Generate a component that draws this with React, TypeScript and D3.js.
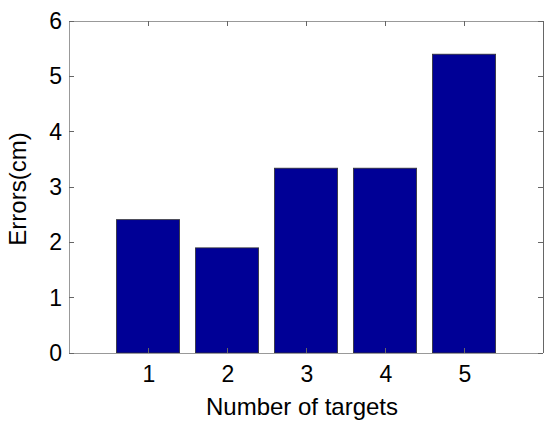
import React, { useRef, useEffect } from 'react';
import * as d3 from 'd3';

// data
const targets = [1, 2, 3, 4, 5];
const errors = [2.41, 1.9, 3.34, 3.34, 5.4];
const yTicks = [0, 1, 2, 3, 4, 5, 6];

const BarChart = () => {
    const svgRef = useRef<SVGSVGElement>(null);
    const width = 550, height = 426;
    const margin = { top: 21, right: 7, bottom: 73, left: 69 };

    useEffect(() => {
        const svg = d3.select(svgRef.current);
        svg.selectAll('*').remove();

        const x = d3.scaleLinear().domain([0, 6]).range([margin.left, width - margin.right]);
        const y = d3.scaleLinear().domain([0, 6]).range([height - margin.bottom, margin.top]);
        const font = 'Arial, "Liberation Sans", sans-serif';

        // bars
        const bw = x(0.8) - x(0);
        svg.append('g').selectAll('rect')
            .data(targets)
            .enter()
            .append('rect')
            .attr('x', (d) => x(d) - bw / 2)
            .attr('y', (d, i) => y(errors[i]))
            .attr('width', bw)
            .attr('height', (d, i) => y(0) - y(errors[i]))
            .attr('fill', '#000096')
            .attr('stroke', '#333')
            .attr('stroke-width', 0.8);

        // box
        const x0 = x(0), x1 = x(6), y0 = y(0), y1 = y(6);
        const box = svg.append('g').attr('stroke-width', 1).attr('shape-rendering', 'crispEdges');
        box.append('line').attr('x1', x0).attr('x2', x1).attr('y1', y0).attr('y2', y0).attr('stroke', '#999');
        box.append('line').attr('x1', x0).attr('x2', x1).attr('y1', y1).attr('y2', y1).attr('stroke', '#999');
        box.append('line').attr('x1', x0).attr('x2', x0).attr('y1', y0).attr('y2', y1).attr('stroke', '#999');
        box.append('line').attr('x1', x1).attr('x2', x1).attr('y1', y0).attr('y2', y1).attr('stroke', '#666');

        // inward ticks on all four sides
        const tl = 5;
        targets.forEach(t => {
            box.append('line').attr('x1', x(t)).attr('x2', x(t)).attr('y1', y0).attr('y2', y0 - tl).attr('stroke', '#666');
            box.append('line').attr('x1', x(t)).attr('x2', x(t)).attr('y1', y1).attr('y2', y1 + tl).attr('stroke', '#666');
        });
        yTicks.forEach(t => {
            box.append('line').attr('x1', x0).attr('x2', x0 + tl).attr('y1', y(t)).attr('y2', y(t)).attr('stroke', '#666');
            box.append('line').attr('x1', x1).attr('x2', x1 - tl).attr('y1', y(t)).attr('y2', y(t)).attr('stroke', '#666');
        });

        // tick labels
        svg.append('g').selectAll('text')
            .data(targets)
            .enter()
            .append('text')
            .attr('x', (d) => x(d) + 1)
            .attr('y', y0 + 29)
            .attr('text-anchor', 'middle')
            .style('font-family', font)
            .style('font-size', '23px')
            .text((d) => String(d));

        svg.append('g').selectAll('text')
            .data(yTicks)
            .enter()
            .append('text')
            .attr('x', x0 - 7)
            .attr('y', (d) => y(d) + 8)
            .attr('text-anchor', 'end')
            .style('font-family', font)
            .style('font-size', '23px')
            .text((d) => String(d));

        // axis labels
        svg.append('text')
            .attr('x', (x0 + x1) / 2 - 4)
            .attr('y', 415)
            .attr('text-anchor', 'middle')
            .style('font-family', font)
            .style('font-size', '24px')
            .text('Number of targets');

        svg.append('text')
            .attr('transform', 'translate(26,' + ((y0 + y1) / 2 + 2) + ') rotate(-90)')
            .attr('text-anchor', 'middle')
            .style('font-family', font)
            .style('font-size', '24px')
            .text('Errors(cm)');
    // eslint-disable-next-line
    }, []);

    return (
        <div style={{ position: 'absolute', left: 0, top: 0 }}>
            <svg ref={svgRef} width={width} height={height} style={{ display: 'block', background: '#fff' }}></svg>
        </div>
    );
};

export default function App() {
    return <BarChart />;
}
